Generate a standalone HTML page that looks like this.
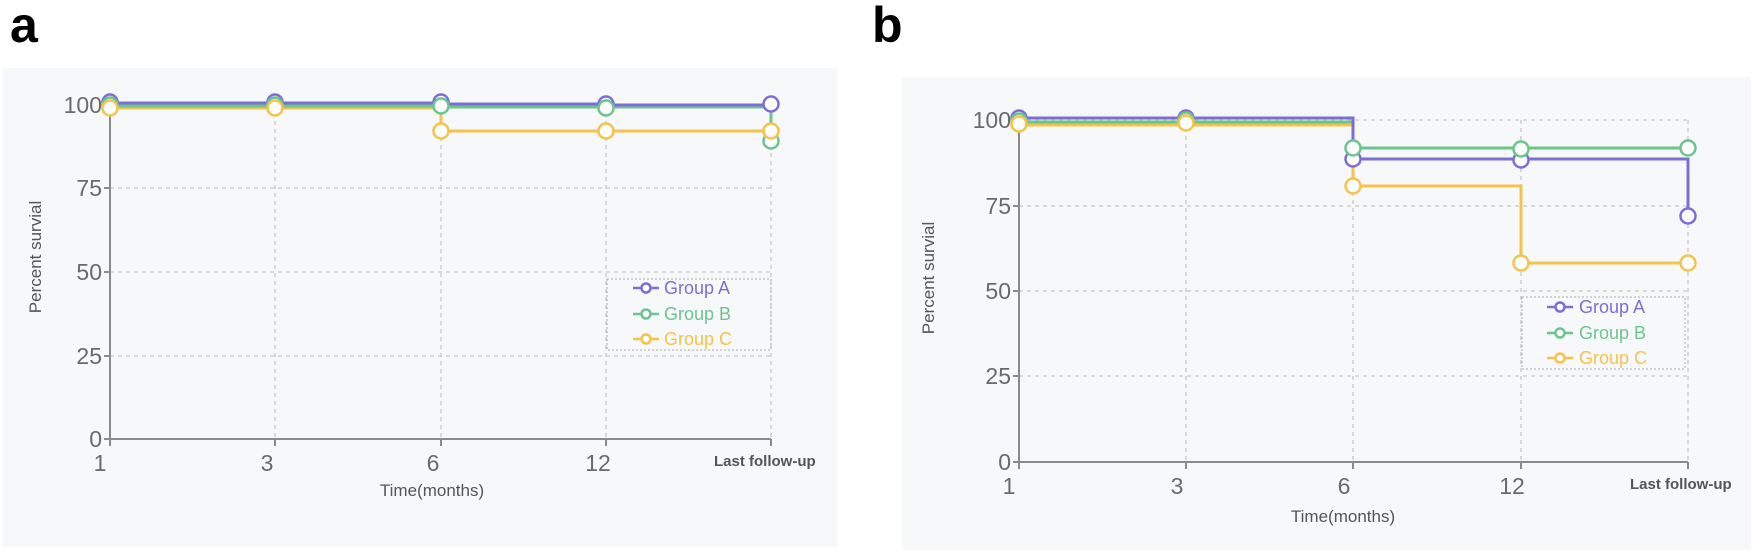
<!DOCTYPE html>
<html><head><meta charset="utf-8"><style>
html,body{margin:0;padding:0;background:#fff;}
svg{display:block;font-family:"Liberation Sans",sans-serif;}
</style></head><body>
<svg width="1755" height="552" viewBox="0 0 1755 552" xmlns="http://www.w3.org/2000/svg">
<text x="10" y="42" font-size="50" font-weight="bold" fill="#000">a</text>
<text x="872" y="42" font-size="50" font-weight="bold" fill="#000">b</text>

<rect x="3" y="68" width="834" height="479" fill="#f7f8fa"/>
<g stroke="#c8c8c8" stroke-width="1.3" stroke-dasharray="4,4" fill="none">
<line x1="110" y1="188" x2="771" y2="188"/><line x1="110" y1="272" x2="771" y2="272"/><line x1="110" y1="356" x2="771" y2="356"/>
<line x1="275" y1="105" x2="275" y2="439"/><line x1="441" y1="105" x2="441" y2="439"/><line x1="606" y1="105" x2="606" y2="439"/><line x1="771" y1="105" x2="771" y2="439"/>
</g>
<g stroke="#8a8a8a" stroke-width="2" fill="none">
<line x1="110" y1="100" x2="110" y2="446"/><line x1="104" y1="439" x2="771" y2="439"/>
<line x1="104" y1="188" x2="110" y2="188"/><line x1="104" y1="272" x2="110" y2="272"/><line x1="104" y1="356" x2="110" y2="356"/><line x1="104" y1="105" x2="110" y2="105"/>
<line x1="275" y1="439" x2="275" y2="446"/><line x1="441" y1="439" x2="441" y2="446"/><line x1="606" y1="439" x2="606" y2="446"/><line x1="771" y1="439" x2="771" y2="446"/>
</g>
<g font-size="23" fill="#6a6a6a" text-anchor="end">
<text x="102" y="113">100</text><text x="102" y="196">75</text><text x="102" y="280">50</text><text x="102" y="364">25</text><text x="102" y="447">0</text>
</g>
<g font-size="23" fill="#6a6a6a" text-anchor="middle">
<text x="100" y="471">1</text><text x="267" y="471">3</text><text x="433" y="471">6</text><text x="598" y="471">12</text>
</g>
<text x="714" y="466" font-size="15" font-weight="bold" fill="#555">Last follow-up</text>
<text x="432" y="496" font-size="17" fill="#555" text-anchor="middle">Time(months)</text>
<text transform="translate(41,257) rotate(-90)" font-size="17" fill="#555" text-anchor="middle">Percent survial</text>
<g fill="none" stroke-width="3">
<polyline stroke="#f5c24c" points="110,108 441,108 441,131 771,131"/>
<polyline stroke="#6cc48f" points="110,106 441,106 441,107 606,107 771,107 771,145"/>
<polyline stroke="#7b6fd6" points="110,103 441,103 441,104 606,104 606,105 771,105"/>
</g>
<g fill="#fff" stroke-width="2.5">
<g stroke="#7b6fd6"><circle cx="110" cy="102" r="7.5"/><circle cx="275" cy="102" r="7.5"/><circle cx="441" cy="102" r="7.5"/><circle cx="606" cy="104" r="7.5"/><circle cx="771" cy="104" r="7.5"/></g>
<g stroke="#6cc48f"><circle cx="110" cy="105" r="7.5"/><circle cx="275" cy="105" r="7.5"/><circle cx="441" cy="106" r="7.5"/><circle cx="606" cy="108" r="7.5"/><circle cx="771" cy="141" r="7.5"/></g>
<g stroke="#f5c24c"><circle cx="110" cy="108" r="7.5"/><circle cx="275" cy="108" r="7.5"/><circle cx="441" cy="131" r="7.5"/><circle cx="606" cy="131" r="7.5"/><circle cx="771" cy="131" r="7.5"/></g>
</g>
<rect x="607" y="279" width="164" height="71" fill="none" stroke="#aaa" stroke-width="1" stroke-dasharray="2,2"/>
<g stroke-width="2.5" fill="#fff">
<line x1="633" y1="288" x2="659" y2="288" stroke="#7b6fd6"/><circle cx="646" cy="288" r="4.5" stroke="#7b6fd6"/>
<line x1="633" y1="314" x2="659" y2="314" stroke="#6cc48f"/><circle cx="646" cy="314" r="4.5" stroke="#6cc48f"/>
<line x1="633" y1="339" x2="659" y2="339" stroke="#f5c24c"/><circle cx="646" cy="339" r="4.5" stroke="#f5c24c"/>
</g>
<g font-size="18">
<text x="664" y="294" fill="#7b6fd6">Group A</text><text x="664" y="320" fill="#6cc48f">Group B</text><text x="664" y="345" fill="#f5c24c">Group C</text>
</g>

<rect x="902" y="77" width="849" height="473" fill="#f7f8fa"/>
<g stroke="#c8c8c8" stroke-width="1.3" stroke-dasharray="4,4" fill="none">
<line x1="1019" y1="120" x2="1688" y2="120"/><line x1="1019" y1="206" x2="1688" y2="206"/><line x1="1019" y1="291" x2="1688" y2="291"/><line x1="1019" y1="376" x2="1688" y2="376"/>
<line x1="1186" y1="120" x2="1186" y2="462"/><line x1="1353" y1="120" x2="1353" y2="462"/><line x1="1521" y1="120" x2="1521" y2="462"/><line x1="1688" y1="120" x2="1688" y2="462"/>
</g>
<g stroke="#8a8a8a" stroke-width="2" fill="none">
<line x1="1019" y1="115" x2="1019" y2="469"/><line x1="1013" y1="462" x2="1688" y2="462"/>
<line x1="1013" y1="120" x2="1019" y2="120"/><line x1="1013" y1="206" x2="1019" y2="206"/><line x1="1013" y1="291" x2="1019" y2="291"/><line x1="1013" y1="376" x2="1019" y2="376"/>
<line x1="1186" y1="462" x2="1186" y2="469"/><line x1="1353" y1="462" x2="1353" y2="469"/><line x1="1521" y1="462" x2="1521" y2="469"/><line x1="1688" y1="462" x2="1688" y2="469"/>
</g>
<g font-size="23" fill="#6a6a6a" text-anchor="end">
<text x="1011" y="128">100</text><text x="1011" y="214">75</text><text x="1011" y="299">50</text><text x="1011" y="384">25</text><text x="1011" y="470">0</text>
</g>
<g font-size="23" fill="#6a6a6a" text-anchor="middle">
<text x="1009" y="494">1</text><text x="1177" y="494">3</text><text x="1344" y="494">6</text><text x="1512" y="494">12</text>
</g>
<text x="1630" y="489" font-size="15" font-weight="bold" fill="#555">Last follow-up</text>
<text x="1343" y="522" font-size="17" fill="#555" text-anchor="middle">Time(months)</text>
<text transform="translate(934,278) rotate(-90)" font-size="17" fill="#555" text-anchor="middle">Percent survial</text>
<g fill="none" stroke-width="3">
<polyline stroke="#f5c24c" points="1019,125 1353,125 1353,186 1521,186 1521,263 1688,263"/>
<polyline stroke="#6cc48f" points="1019,122 1353,122 1353,148 1688,148"/>
<polyline stroke="#7b6fd6" points="1019,118 1353,118 1353,159 1688,159 1688,216"/>
</g>
<g fill="#fff" stroke-width="2.5">
<g stroke="#7b6fd6"><circle cx="1019" cy="118" r="7.5"/><circle cx="1186" cy="118" r="7.5"/><circle cx="1353" cy="159" r="7.5"/><circle cx="1521" cy="160" r="7.5"/><circle cx="1688" cy="216" r="7.5"/></g>
<g stroke="#6cc48f"><circle cx="1019" cy="121" r="7.5"/><circle cx="1186" cy="120" r="7.5"/><circle cx="1353" cy="148" r="7.5"/><circle cx="1521" cy="149" r="7.5"/><circle cx="1688" cy="148" r="7.5"/></g>
<g stroke="#f5c24c"><circle cx="1019" cy="124" r="7.5"/><circle cx="1186" cy="123" r="7.5"/><circle cx="1353" cy="186" r="7.5"/><circle cx="1521" cy="263" r="7.5"/><circle cx="1688" cy="263" r="7.5"/></g>
</g>
<rect x="1522" y="297" width="163" height="72" fill="none" stroke="#aaa" stroke-width="1" stroke-dasharray="2,2"/>
<g stroke-width="2.5" fill="#fff">
<line x1="1547" y1="307" x2="1573" y2="307" stroke="#7b6fd6"/><circle cx="1560" cy="307" r="4.5" stroke="#7b6fd6"/>
<line x1="1547" y1="333" x2="1573" y2="333" stroke="#6cc48f"/><circle cx="1560" cy="333" r="4.5" stroke="#6cc48f"/>
<line x1="1547" y1="358" x2="1573" y2="358" stroke="#f5c24c"/><circle cx="1560" cy="358" r="4.5" stroke="#f5c24c"/>
</g>
<g font-size="18">
<text x="1579" y="313" fill="#7b6fd6">Group A</text><text x="1579" y="339" fill="#6cc48f">Group B</text><text x="1579" y="364" fill="#f5c24c">Group C</text>
</g>
</svg>
</body></html>
